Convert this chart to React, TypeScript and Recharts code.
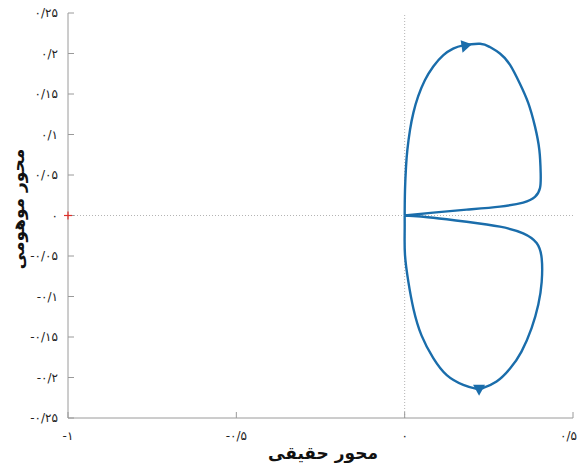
import React from 'react';
import {
  LineChart,
  Line,
  XAxis,
  YAxis,
  ReferenceLine,
  Scatter,
} from 'recharts';

// upper loop, from the origin up the left side, over the top and back along the wedge
const upperLoop = [
  { x: 0, y: 0 },
  { x: 0.001, y: 0.0315 },
  { x: 0.004, y: 0.06 },
  { x: 0.008, y: 0.081 },
  { x: 0.016, y: 0.106 },
  { x: 0.026, y: 0.127 },
  { x: 0.04, y: 0.147 },
  { x: 0.06, y: 0.167 },
  { x: 0.085, y: 0.184 },
  { x: 0.115, y: 0.198 },
  { x: 0.144, y: 0.206 },
  { x: 0.174, y: 0.21 },
  { x: 0.224, y: 0.212 },
  { x: 0.253, y: 0.208 },
  { x: 0.283, y: 0.2 },
  { x: 0.313, y: 0.186 },
  { x: 0.342, y: 0.163 },
  { x: 0.367, y: 0.139 },
  { x: 0.387, y: 0.11 },
  { x: 0.4, y: 0.081 },
  { x: 0.404, y: 0.052 },
  { x: 0.402, y: 0.034 },
  { x: 0.387, y: 0.023 },
  { x: 0.352, y: 0.016 },
  { x: 0.283, y: 0.011 },
  { x: 0.184, y: 0.0072 },
  { x: 0.085, y: 0.0035 },
  { x: 0, y: 0 },
];

// lower loop, from the origin along the wedge, down the right side and back up the left
const lowerLoop = [
  { x: 0, y: 0 },
  { x: 0.085, y: -0.0027 },
  { x: 0.184, y: -0.0077 },
  { x: 0.283, y: -0.0138 },
  { x: 0.352, y: -0.022 },
  { x: 0.392, y: -0.034 },
  { x: 0.407, y: -0.053 },
  { x: 0.407, y: -0.082 },
  { x: 0.397, y: -0.11 },
  { x: 0.377, y: -0.139 },
  { x: 0.347, y: -0.168 },
  { x: 0.313, y: -0.189 },
  { x: 0.273, y: -0.205 },
  { x: 0.233, y: -0.213 },
  { x: 0.214, y: -0.214 },
  { x: 0.174, y: -0.209 },
  { x: 0.125, y: -0.197 },
  { x: 0.085, y: -0.176 },
  { x: 0.05, y: -0.148 },
  { x: 0.026, y: -0.115 },
  { x: 0.011, y: -0.082 },
  { x: 0.001, y: -0.049 },
  { x: 0, y: -0.02 },
  { x: 0, y: 0 },
];

const arrowUp = [{ x: 0.178, y: 0.208 }];
const arrowDown = [{ x: 0.221, y: -0.215 }];
const criticalPoint = [{ x: -1, y: 0 }];

const xTicks = [-1, -0.5, 0, 0.5];
const xTickLabels = ['-۱', '-۰/۵', '۰', '۰/۵'];
const yTicks = [-0.25, -0.2, -0.15, -0.1, -0.05, 0, 0.05, 0.1, 0.15, 0.2, 0.25];
const yTickLabels = [
  '-۰/۲۵', '-۰/۲', '-۰/۱۵', '-۰/۱', '-۰/۰۵', '۰',
  '۰/۰۵', '۰/۱', '۰/۱۵', '۰/۲', '۰/۲۵',
];

const LINE = '#1a6dab';
const BOX = '#9a9a9a';
const FONT = '"DejaVu Sans", sans-serif';

const LeftTick = (props: any) => {
  const { x, y, payload } = props;
  const i = yTicks.indexOf(payload.value);
  return (
    <text x={x} y={y} dy={4} textAnchor="end" fontSize={12} fill="#222" fontFamily={FONT}>
      {yTickLabels[i]}
    </text>
  );
};

const BottomTick = (props: any) => {
  const { x, y, payload } = props;
  const i = xTicks.indexOf(payload.value);
  const last = i === xTicks.length - 1;
  return (
    <text
      x={last ? x + 4 : x}
      y={y}
      dy={9}
      textAnchor={last ? 'end' : 'middle'}
      fontSize={12}
      fill="#222"
      fontFamily={FONT}
    >
      {xTickLabels[i]}
    </text>
  );
};

const triangle = (angle: number) => (props: any) => {
  const { cx, cy } = props;
  return (
    <path
      d="M6,0 L-5,-6 L-5,6 Z"
      fill={LINE}
      transform={`translate(${cx},${cy}) rotate(${angle})`}
    />
  );
};

const PlusMark = (props: any) => {
  const { cx, cy } = props;
  return (
    <g stroke="#e0302a" strokeWidth={1.2}>
      <line x1={cx - 4} x2={cx + 4} y1={cy} y2={cy} />
      <line x1={cx} x2={cx} y1={cy - 4} y2={cy + 4} />
    </g>
  );
};

export default function App() {
  return (
    <div style={{ position: 'absolute', left: 0, top: 0, width: 577, height: 468, background: '#fff' }}>
      <LineChart
        width={577}
        height={468}
        margin={{ top: 13, right: 4, bottom: 20, left: 0 }}
      >
        <XAxis
          type="number"
          dataKey="x"
          domain={[-1, 0.5]}
          ticks={xTicks}
          height={30}
          tickSize={-6}
          tickMargin={19}
          tickLine={{ stroke: BOX }}
          axisLine={{ stroke: BOX }}
          tick={<BottomTick />}
          interval={0}
        />
        <XAxis
          xAxisId="top"
          orientation="top"
          type="number"
          domain={[-1, 0.5]}
          height={0}
          tick={false}
          tickLine={false}
          axisLine={{ stroke: BOX }}
        />
        <YAxis
          type="number"
          dataKey="y"
          domain={[-0.25, 0.25]}
          ticks={yTicks}
          width={68}
          tickSize={-6}
          tickMargin={16}
          tickLine={{ stroke: BOX }}
          axisLine={{ stroke: BOX }}
          tick={<LeftTick />}
          interval={0}
        />
        <YAxis
          yAxisId="right"
          orientation="right"
          type="number"
          domain={[-0.25, 0.25]}
          ticks={yTicks}
          width={0}
          tickSize={-6}
          tickMargin={0}
          tickLine={{ stroke: BOX }}
          axisLine={{ stroke: BOX }}
          tickFormatter={() => ''}
          interval={0}
        />
        <ReferenceLine x={0} stroke="#b4b4b4" strokeDasharray="1 2" />
        <ReferenceLine y={0} stroke="#b4b4b4" strokeDasharray="1 2" />
        <Line
          data={upperLoop}
          dataKey="y"
          type="natural"
          stroke={LINE}
          strokeWidth={2.4}
          dot={false}
          activeDot={false}
          isAnimationActive={false}
        />
        <Line
          data={lowerLoop}
          dataKey="y"
          type="natural"
          stroke={LINE}
          strokeWidth={2.4}
          dot={false}
          activeDot={false}
          isAnimationActive={false}
        />
        <Scatter data={arrowUp} dataKey="y" shape={triangle(110)} isAnimationActive={false} />
        <Scatter data={arrowDown} dataKey="y" shape={triangle(90)} isAnimationActive={false} />
        <Scatter data={criticalPoint} dataKey="y" shape={<PlusMark />} isAnimationActive={false} />
      </LineChart>
      <div
        style={{
          position: 'absolute',
          left: 223,
          width: 200,
          top: 441,
          textAlign: 'center',
          fontFamily: FONT,
          fontWeight: 'bold',
          fontSize: 17,
          color: '#111',
          direction: 'rtl',
          lineHeight: '24px',
        }}
      >
        محور حقیقی
      </div>
      <div
        style={{
          position: 'absolute',
          left: 18 - 100,
          top: 209 - 12,
          width: 200,
          textAlign: 'center',
          transform: 'rotate(-90deg)',
          fontFamily: FONT,
          fontWeight: 'bold',
          fontSize: 17,
          color: '#111',
          direction: 'rtl',
          lineHeight: '24px',
        }}
      >
        محور موهومی
      </div>
    </div>
  );
}
